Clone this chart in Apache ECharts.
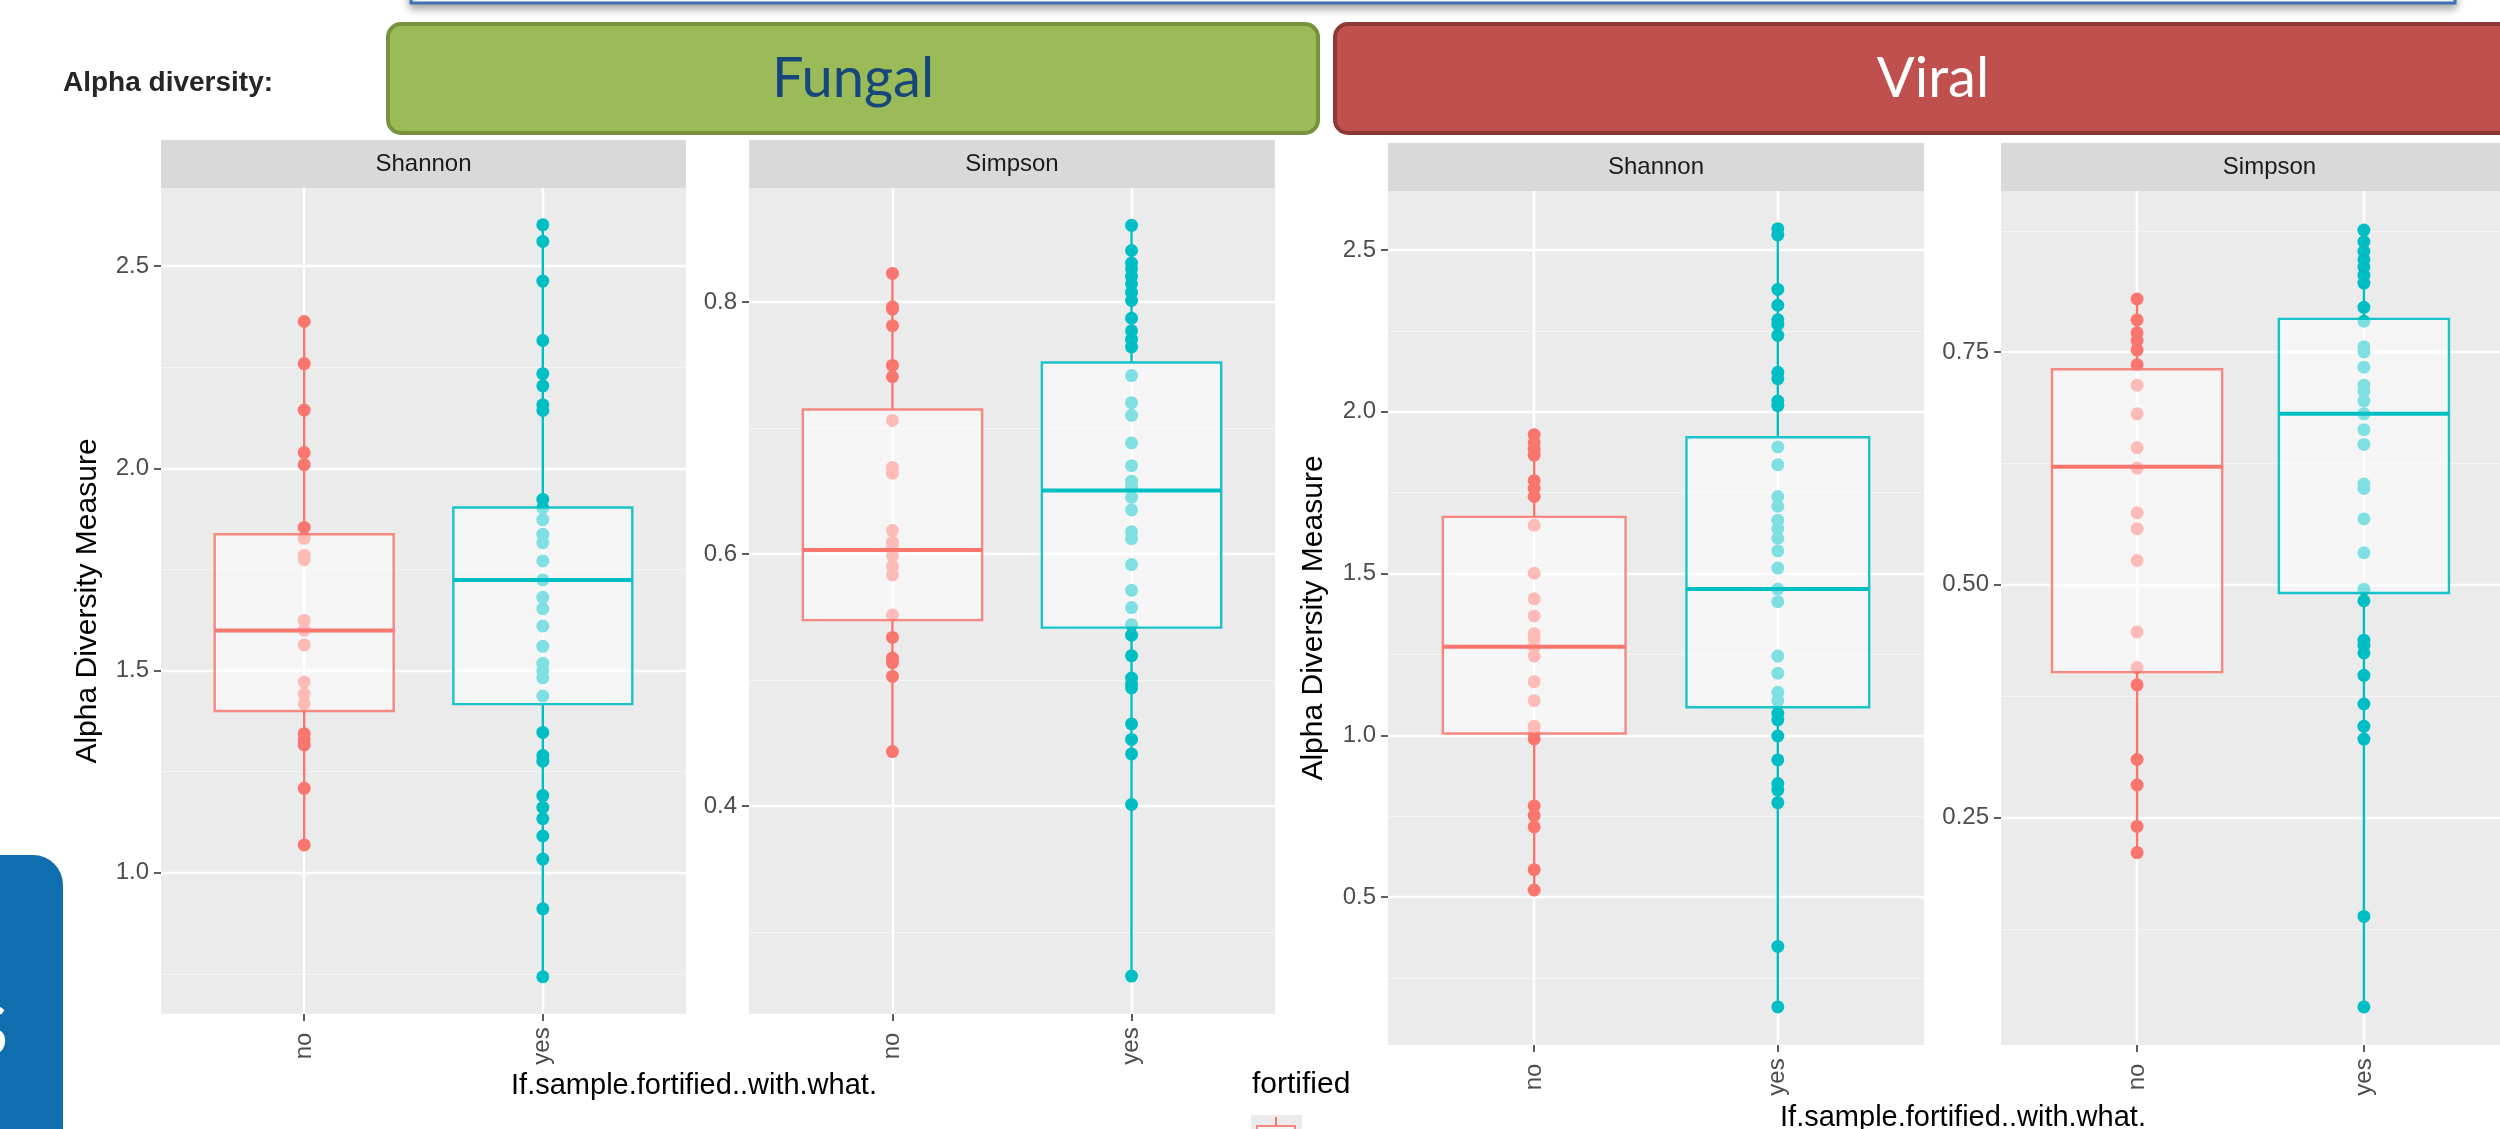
<!DOCTYPE html>
<html>
<head>
<meta charset="utf-8">
<script src="https://cdn.jsdelivr.net/npm/echarts@6/dist/echarts.min.js"></script>
<style>
html,body{margin:0;padding:0;background:#ffffff;}
#chart{width:2500px;height:1129px;}
</style>
</head>
<body>
<div id="chart"></div>
<script>
// ---------------- data ----------------
const xCats = ['no', 'yes'];
const groupColors = ['#F8766D', '#00BFC4'];

// Fungal - Shannon
const fungalShannonNo = [2.363, 2.259, 2.144, 2.039, 2.009, 1.854, 1.827, 1.785, 1.774, 1.624, 1.600, 1.563, 1.472, 1.442, 1.418, 1.344, 1.329, 1.316, 1.209, 1.069];
const fungalShannonYes = [2.602, 2.561, 2.463, 2.316, 2.234, 2.204, 2.157, 2.143, 1.923, 1.902, 1.873, 1.837, 1.816, 1.771, 1.724, 1.681, 1.653, 1.610, 1.560, 1.518, 1.500, 1.482, 1.437, 1.347, 1.290, 1.276, 1.191, 1.162, 1.134, 1.091, 1.034, 0.911, 0.743];
// box stats: [min, q1, median, q3, max]
const fungalShannonNoBox = [1.069, 1.400, 1.599, 1.837, 2.363];
const fungalShannonYesBox = [0.743, 1.417, 1.724, 1.903, 2.602];

// Fungal - Simpson
const fungalSimpsonNo = [0.8228, 0.7963, 0.7945, 0.7813, 0.7498, 0.7408, 0.7061, 0.6688, 0.6642, 0.6187, 0.6095, 0.6050, 0.5987, 0.5904, 0.5836, 0.5517, 0.5339, 0.5175, 0.5139, 0.5029, 0.4433];
const fungalSimpsonYes = [0.861, 0.841, 0.831, 0.8264, 0.8205, 0.8146, 0.8077, 0.8013, 0.7872, 0.7772, 0.7704, 0.7644, 0.7417, 0.7202, 0.7102, 0.6883, 0.6702, 0.6579, 0.6533, 0.6451, 0.6351, 0.6178, 0.6123, 0.5917, 0.5713, 0.5576, 0.5440, 0.5357, 0.5194, 0.5016, 0.4970, 0.4938, 0.4652, 0.4529, 0.4414, 0.4013, 0.2651];
const fungalSimpsonNoBox = [0.4433, 0.5476, 0.6032, 0.7148, 0.8228];
const fungalSimpsonYesBox = [0.2651, 0.5417, 0.6506, 0.7521, 0.861];

// Viral - Shannon
const viralShannonNo = [1.929, 1.905, 1.885, 1.866, 1.787, 1.763, 1.738, 1.649, 1.501, 1.422, 1.369, 1.314, 1.298, 1.274, 1.245, 1.166, 1.107, 1.028, 1.008, 0.989, 0.782, 0.752, 0.717, 0.585, 0.522];
const viralShannonYes = [2.565, 2.546, 2.378, 2.329, 2.284, 2.270, 2.236, 2.122, 2.102, 2.033, 2.019, 1.891, 1.836, 1.738, 1.708, 1.665, 1.639, 1.609, 1.570, 1.517, 1.452, 1.413, 1.245, 1.192, 1.133, 1.107, 1.068, 1.048, 0.998, 0.924, 0.851, 0.831, 0.792, 0.348, 0.161];
const viralShannonNoBox = [0.522, 1.006, 1.274, 1.675, 1.929];
const viralShannonYesBox = [0.161, 1.087, 1.452, 1.921, 2.565];

// Viral - Simpson
const viralSimpsonNo = [0.8068, 0.7843, 0.7705, 0.7622, 0.7520, 0.7363, 0.7143, 0.6835, 0.6472, 0.6253, 0.5773, 0.5602, 0.5260, 0.4493, 0.4110, 0.3925, 0.3123, 0.2849, 0.2404, 0.2123];
const viralSimpsonYes = [0.8808, 0.8685, 0.8581, 0.8492, 0.8411, 0.8322, 0.8239, 0.7979, 0.7829, 0.7555, 0.7500, 0.7336, 0.7143, 0.7075, 0.6973, 0.6835, 0.6665, 0.6507, 0.6081, 0.6034, 0.5706, 0.5343, 0.4952, 0.4828, 0.4404, 0.4349, 0.4267, 0.4027, 0.3719, 0.3479, 0.3342, 0.1438, 0.0466];
const viralSimpsonNoBox = [0.2123, 0.4061, 0.6267, 0.7314, 0.8068];
const viralSimpsonYesBox = [0.0466, 0.4911, 0.6835, 0.7855, 0.8808];

// axis limits and ticks
const fungalShannonLimits = [0.651, 2.693];
const fungalSimpsonLimits = [0.235, 0.8906];
const viralShannonLimits = [0.0433, 2.682];
const viralSimpsonLimits = [0.0057, 0.9228];
const fungalShannonTicks = [1.0, 1.5, 2.0, 2.5];
const fungalSimpsonTicks = [0.4, 0.6, 0.8];
const viralShannonTicks = [0.5, 1.0, 1.5, 2.0, 2.5];
const viralSimpsonTicks = [0.25, 0.50, 0.75];
const fungalShannonMinor = [0.75, 1.25, 1.75, 2.25];
const fungalSimpsonMinor = [0.3, 0.5, 0.7];
const viralShannonMinor = [0.25, 0.75, 1.25, 1.75, 2.25];
const viralSimpsonMinor = [0.125, 0.375, 0.625, 0.875];

const stripLabels = ['Shannon', 'Simpson', 'Shannon', 'Simpson'];
const yTitle = 'Alpha Diversity Measure';
const xTitle = 'If.sample.fortified..with.what.';
const legendTitle = 'fortified';

// ---------------- layout ----------------
const panels = [
  {grid:{left:161, top:188, width:525, height:826}, no:fungalShannonNo, yes:fungalShannonYes, noBox:fungalShannonNoBox, yesBox:fungalShannonYesBox, lim:fungalShannonLimits, ticks:fungalShannonTicks, minor:fungalShannonMinor, dec:1, title:true, gap:58},
  {grid:{left:749, top:188, width:526, height:826}, no:fungalSimpsonNo, yes:fungalSimpsonYes, noBox:fungalSimpsonNoBox, yesBox:fungalSimpsonYesBox, lim:fungalSimpsonLimits, ticks:fungalSimpsonTicks, minor:fungalSimpsonMinor, dec:1, title:false},
  {grid:{left:1388, top:191, width:536, height:854}, no:viralShannonNo, yes:viralShannonYes, noBox:viralShannonNoBox, yesBox:viralShannonYesBox, lim:viralShannonLimits, ticks:viralShannonTicks, minor:viralShannonMinor, dec:1, title:true, gap:59},
  {grid:{left:2001, top:191, width:537, height:854}, no:viralSimpsonNo, yes:viralSimpsonYes, noBox:viralSimpsonNoBox, yesBox:viralSimpsonYesBox, lim:viralSimpsonLimits, ticks:viralSimpsonTicks, minor:viralSimpsonMinor, dec:2, title:false}
];

const ARIAL = "'Liberation Sans', Arial, sans-serif";
const grids = [], xAxes = [], yAxes = [], series = [], graphics = [];

function renderBox(params, api) {
  const x = api.value(0);
  const mn = api.coord([x, api.value(1)]);
  const q1 = api.coord([x, api.value(2)]);
  const md = api.coord([x, api.value(3)]);
  const q3 = api.coord([x, api.value(4)]);
  const mx = api.coord([x, api.value(5)]);
  const w = api.size([0.75, 0])[0];
  const c = groupColors[Math.round(x) - 1];
  const cBorder = Math.round(x) === 1 ? 'rgba(248,118,109,0.85)' : 'rgba(0,191,196,0.9)';
  return {
    type: 'group',
    children: [
      {type:'line', shape:{x1:mn[0], y1:mn[1], x2:q1[0], y2:q1[1]}, style:{stroke:c, lineWidth:2.4}},
      {type:'line', shape:{x1:q3[0], y1:q3[1], x2:mx[0], y2:mx[1]}, style:{stroke:c, lineWidth:2.4}},
      {type:'rect', shape:{x:q1[0]-w/2, y:q3[1], width:w, height:q1[1]-q3[1]}, style:{fill:'rgba(255,255,255,0.5)', stroke:cBorder, lineWidth:2.4}},
      {type:'line', shape:{x1:md[0]-w/2, y1:md[1], x2:md[0]+w/2, y2:md[1]}, style:{stroke:c, lineWidth:4}}
    ]
  };
}

panels.forEach((p, i) => {
  grids.push(Object.assign({show:true, backgroundColor:'#EBEBEB', borderWidth:0}, p.grid));
  xAxes.push({
    type:'value', gridIndex:i, min:0.4, max:2.6,
    axisLine:{show:false}, splitLine:{show:false},
    axisTick:{show:true, customValues:[1,2], length:7, lineStyle:{color:'#333333', width:1.6}},
    axisLabel:{show:true, customValues:[1,2], formatter:(v)=>xCats[Math.round(v)-1], rotate:90, align:'center', verticalAlign:'middle', margin:32, fontSize:24, color:'#4D4D4D', fontFamily:ARIAL}
  });
  yAxes.push({
    type:'value', gridIndex:i, min:p.lim[0], max:p.lim[1],
    axisLine:{show:false}, splitLine:{show:false},
    axisTick:{show:true, customValues:p.ticks, length:7, lineStyle:{color:'#333333', width:1.6}},
    axisLabel:{show:true, customValues:p.ticks, formatter:(v)=>v.toFixed(p.dec), margin:12, fontSize:24, color:'#4D4D4D', fontFamily:ARIAL},
    name: p.title ? yTitle : '', nameLocation:'middle', nameGap: p.gap || 50, nameRotate:90,
    nameTextStyle:{fontSize:30, color:'#000000', fontFamily:ARIAL}
  });
  const mlData = [];
  p.minor.forEach(v => mlData.push({yAxis:v, lineStyle:{color:'#F5F5F5', width:1.2, type:'solid'}}));
  p.ticks.forEach(v => mlData.push({yAxis:v, lineStyle:{color:'#FFFFFF', width:2.4, type:'solid'}}));
  [1,2].forEach(v => mlData.push({xAxis:v, lineStyle:{color:'#FFFFFF', width:2.4, type:'solid'}}));
  series.push({
    type:'scatter', xAxisIndex:i, yAxisIndex:i, z:3, symbolSize:13,
    itemStyle:{color:groupColors[0], opacity:1},
    data: p.no.map(v => [1, v]),
    silent:true,
    markLine:{silent:true, z:1, symbol:['none','none'], label:{show:false}, animation:false, data:mlData}
  });
  series.push({
    type:'scatter', xAxisIndex:i, yAxisIndex:i, z:3, symbolSize:13,
    itemStyle:{color:groupColors[1], opacity:1},
    data: p.yes.map(v => [2, v]), silent:true
  });
  series.push({
    type:'custom', xAxisIndex:i, yAxisIndex:i, z:4, silent:true,
    renderItem: renderBox,
    encode:{x:0, y:[1,2,3,4,5]},
    data: [[1].concat(p.noBox), [2].concat(p.yesBox)]
  });
  // facet strip
  const g = p.grid;
  graphics.push({type:'rect', left:g.left, top:g.top-48, shape:{width:g.width, height:48}, style:{fill:'#D9D9D9'}, silent:true});
  graphics.push({type:'text', x:g.left + g.width/2, y:g.top-24, style:{text:stripLabels[i], fill:'#1A1A1A', font:"24px 'Liberation Sans', Arial, sans-serif", align:'center', verticalAlign:'middle'}, silent:true});
});

// slide decorations
graphics.unshift(
  {type:'rect', shape:{x:411, y:-40, width:2044, height:43}, style:{fill:'#FFFFFF', stroke:'#3F72B5', lineWidth:3, shadowBlur:8, shadowOffsetY:4, shadowColor:'rgba(0,0,0,0.35)'}, silent:true},
  {type:'rect', shape:{x:388, y:24, width:930, height:109, r:13}, style:{fill:'#9BBB59', stroke:'#76923C', lineWidth:4}, silent:true},
  {type:'text', x:853, y:79, style:{text:'Fungal', fill:'#17467A', font:"56px Lato, 'Open Sans', sans-serif", align:'center', verticalAlign:'middle'}, silent:true},
  {type:'rect', shape:{x:1335, y:24, width:1200, height:109, r:13}, style:{fill:'#C0504D', stroke:'#8C3836', lineWidth:4}, silent:true},
  {type:'text', x:1933, y:79, style:{text:'Viral', fill:'#FFFFFF', font:"56px Lato, 'Open Sans', sans-serif", align:'center', verticalAlign:'middle'}, silent:true},
  {type:'text', x:63, y:83, style:{text:'Alpha diversity:', fill:'#262626', font:"bold 28px 'Liberation Sans', Arial, sans-serif", align:'left', verticalAlign:'middle'}, silent:true},
  {type:'rect', shape:{x:-20, y:855, width:83, height:320, r:[0,30,0,0]}, style:{fill:'#0E6EAE'}, silent:true},
  {type:'text', x:9, y:1024, style:{text:'s', fill:'#FFFFFF', font:"100px Lato, 'Open Sans', sans-serif", align:'right', verticalAlign:'middle'}, silent:true}
);
graphics.push(
  {type:'text', x:694, y:1086, style:{text:xTitle, fill:'#000000', font:"29px 'Liberation Sans', Arial, sans-serif", align:'center', verticalAlign:'middle'}, silent:true},
  {type:'text', x:1963, y:1118, style:{text:xTitle, fill:'#000000', font:"29px 'Liberation Sans', Arial, sans-serif", align:'center', verticalAlign:'middle'}, silent:true},
  {type:'text', x:1252, y:1085, style:{text:legendTitle, fill:'#000000', font:"30px 'Liberation Sans', Arial, sans-serif", align:'left', verticalAlign:'middle'}, silent:true},
  {type:'rect', shape:{x:1251, y:1115, width:51, height:51}, style:{fill:'#EBEBEB'}, silent:true},
  {type:'line', shape:{x1:1276, y1:1117, x2:1276, y2:1126}, style:{stroke:'#F8766D', lineWidth:2}, silent:true},
  {type:'rect', shape:{x:1257, y:1126, width:38, height:30}, style:{fill:'rgba(255,255,255,0.5)', stroke:'rgba(248,118,109,0.85)', lineWidth:2}, silent:true}
);

const chart = echarts.init(document.getElementById('chart'), null, {renderer:'canvas', width:2500, height:1129});
chart.setOption({
  animation:false,
  backgroundColor:'#FFFFFF',
  grid: grids,
  xAxis: xAxes,
  yAxis: yAxes,
  series: series,
  graphic: graphics
});
</script>
</body>
</html>
